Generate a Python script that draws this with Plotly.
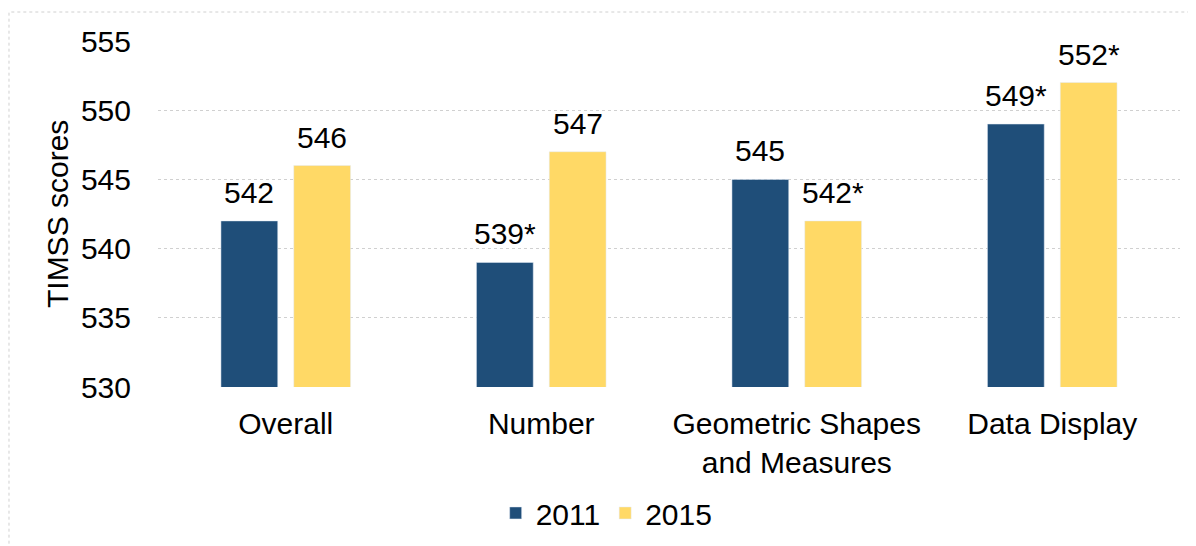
import plotly.graph_objects as go

categories = ["Overall", "Number", "Geometric Shapes<br>and Measures", "Data Display"]
scores_2011 = [542, 539, 545, 549]
scores_2015 = [546, 547, 542, 552]
labels_2011 = ["542", "539*", "545", "549*"]
labels_2015 = ["546", "547", "542*", "552*"]
y_ticks = [530, 535, 540, 545, 550, 555]

FONT = "Liberation Sans, Arial, sans-serif"
SIZE = 30

fig = go.Figure()

fig.add_trace(go.Bar(
    name="2011",
    x=categories,
    y=scores_2011,
    marker=dict(color="#1F4E79"),
))

fig.add_trace(go.Bar(
    name="2015",
    x=categories,
    y=scores_2015,
    marker=dict(color="#FFD966"),
))

# value labels sit a bit higher above the bars than plotly's own outside text
annotations = []
for shift, values, labels in [(-36.5, scores_2011, labels_2011), (36.5, scores_2015, labels_2015)]:
    for cat, val, lab in zip(categories, values, labels):
        annotations.append(dict(
            x=cat, y=val, xref="x", yref="y",
            text=lab, showarrow=False,
            xanchor="center", yanchor="bottom",
            xshift=shift, yshift=10,
            font=dict(size=SIZE, color="#000000"),
        ))

annotations.append(dict(
    text="TIMSS scores",
    textangle=-90,
    x=-0.0988,
    xref="paper",
    y=0.5,
    yref="paper",
    xanchor="center",
    yanchor="middle",
    showarrow=False,
    font=dict(size=SIZE),
))

# page body has an 8px margin, so the figure is 8px smaller than the window
fig.update_layout(
    width=1188,
    height=538,
    barmode="group",
    bargap=0.43,
    bargroupgap=0.22,
    plot_bgcolor="white",
    paper_bgcolor="white",
    font=dict(family=FONT, size=SIZE, color="#000000"),
    margin=dict(l=150, r=16, t=33, b=159, autoexpand=False),
    showlegend=True,
    legend=dict(
        orientation="h",
        x=0.439,
        xanchor="center",
        y=-0.364,
        yanchor="middle",
        font=dict(size=SIZE),
        itemwidth=30,
    ),
    xaxis=dict(
        showgrid=False,
        showline=False,
        ticks="",
        automargin=False,
        ticklabelstandoff=16,
        tickfont=dict(size=SIZE),
    ),
    yaxis=dict(
        range=[530, 555],
        tickvals=y_ticks,
        showgrid=True,
        gridcolor="#D0D0D0",
        griddash="dot",
        gridwidth=1,
        zeroline=False,
        showline=False,
        ticks="",
        automargin=False,
        ticklabelstandoff=26,
        tickfont=dict(size=SIZE),
    ),
    annotations=annotations,
    shapes=[
        dict(
            type="rect",
            xref="paper",
            yref="paper",
            x0=-0.1458,
            x1=1.03,
            y0=-0.5,
            y1=1.0838,
            line=dict(color="#D0D0D0", width=1, dash="dot"),
            layer="below",
        )
    ],
)

fig.write_html("out.html")
